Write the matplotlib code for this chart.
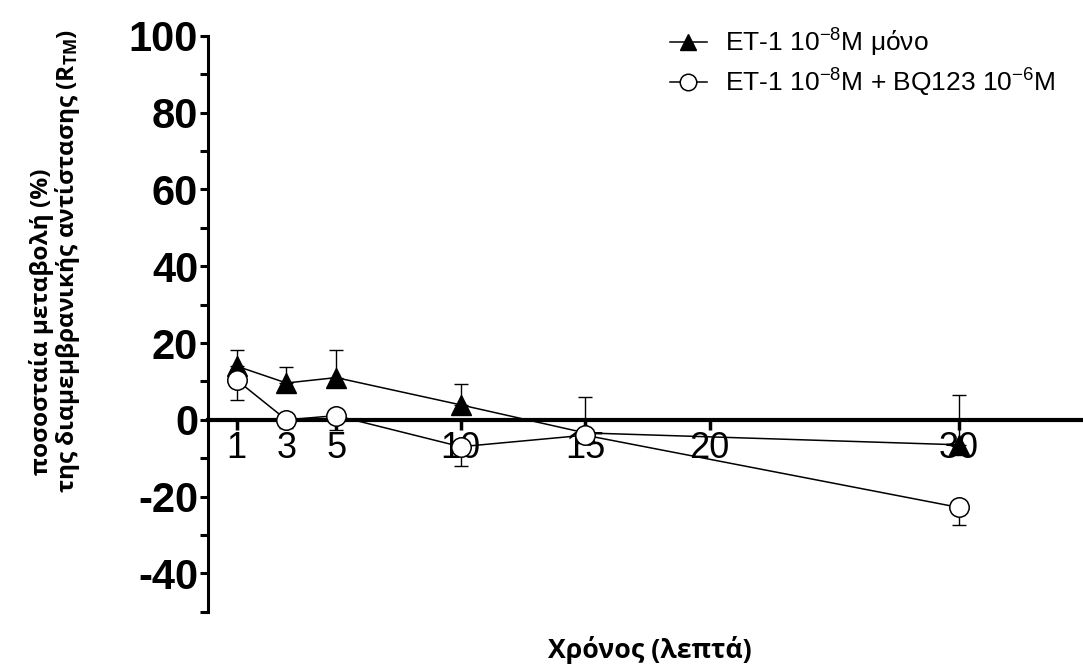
import matplotlib.pyplot as plt

plt.rcParams['font.family'] = ['Liberation Sans', 'DejaVu Sans']
plt.rcParams['mathtext.default'] = 'regular'
plt.rcParams['axes.unicode_minus'] = False

# time points (minutes)
times = [1, 3, 5, 10, 15, 30]
xticks = [1, 3, 5, 10, 15, 20, 30]

# ET-1 alone: mean and upper SEM
et1_mean = [14, 9.6, 11, 3.9, -3.4, -6.5]
et1_err = [4.2, 4.2, 7.2, 5.5, 9.4, 13.0]

# ET-1 + BQ123: mean and lower SEM
bq_mean = [10.4, 0, 1.1, -7, -4, -22.8]
bq_err = [5.2, 2.0, 3.7, 5.0, 0, 4.7]

label1 = 'ET-1 10$^{-8}$M μόνο'
label2 = 'ET-1 10$^{-8}$M + BQ123 10$^{-6}$M'
ylabel1 = 'ποσοσταία μεταβολή (%)'
ylabel2 = 'της διαμεμβρανικής αντίστασης (R$_{TM}$)'
xlabel = 'Χρόνος (λεπτά)'

fig = plt.figure(figsize=(10.83, 6.65), dpi=100)
ax = fig.add_axes([0.192, 0.08, 0.808, 0.866])

ax.errorbar(times, et1_mean, yerr=[[0] * len(et1_err), et1_err], fmt='none',
            ecolor='black', elinewidth=1, capsize=5, capthick=1)
ax.errorbar(times, bq_mean, yerr=[bq_err, [0] * len(bq_err)], fmt='none',
            ecolor='black', elinewidth=1, capsize=5, capthick=1)
ax.plot(times, et1_mean, color='black', lw=1.1, marker='^', markersize=14,
        markerfacecolor='black', label=label1, zorder=4)
ax.plot(times, bq_mean, color='black', lw=1.1, marker='o', markersize=14,
        markerfacecolor='white', markeredgewidth=1.1, label=label2, zorder=4)

ax.set_xlim(-0.15, 35)
ax.set_ylim(-50, 100)

ax.spines['top'].set_visible(False)
ax.spines['right'].set_visible(False)
ax.spines['bottom'].set_position(('data', 0))
ax.spines['bottom'].set_linewidth(3)
ax.spines['left'].set_linewidth(2.2)

ax.set_xticks(xticks)
ax.set_xticklabels([str(t) for t in xticks], fontsize=26)
ax.tick_params(axis='x', direction='out', length=7, width=2.5, pad=1)

ax.set_yticks([-40, -20, 0, 20, 40, 60, 80, 100])
ax.set_yticks(range(-50, 101, 10), minor=True)
ax.tick_params(axis='y', which='major', length=6, width=2.2, labelsize=30, pad=1)
ax.tick_params(axis='y', which='minor', length=6, width=2.2)
for lab in ax.get_yticklabels():
    lab.set_fontweight('bold')

# axis titles, two lines on the y side
lab_font = ['Open Sans', 'DejaVu Sans']
fig.text(42 / 1083, 1 - 322 / 665, ylabel1, rotation=90, ha='center', va='center',
         fontsize=17.6, fontweight='bold', family=lab_font)
fig.text(68 / 1083, 1 - 261 / 665, ylabel2, rotation=90, ha='center', va='center',
         fontsize=17.6, fontweight='bold', family=lab_font)
fig.text(650 / 1083, 1 - 650 / 665, xlabel, ha='center', va='center',
         fontsize=19.2, fontweight='bold', family=lab_font)

ax.legend(loc='upper left', bbox_to_anchor=(0.516, 1.035), frameon=False,
          fontsize=19, handlelength=1.4, handletextpad=0.7, labelspacing=0.3,
          markerscale=0.85, borderaxespad=0)

fig.savefig('out.png', dpi=100)
